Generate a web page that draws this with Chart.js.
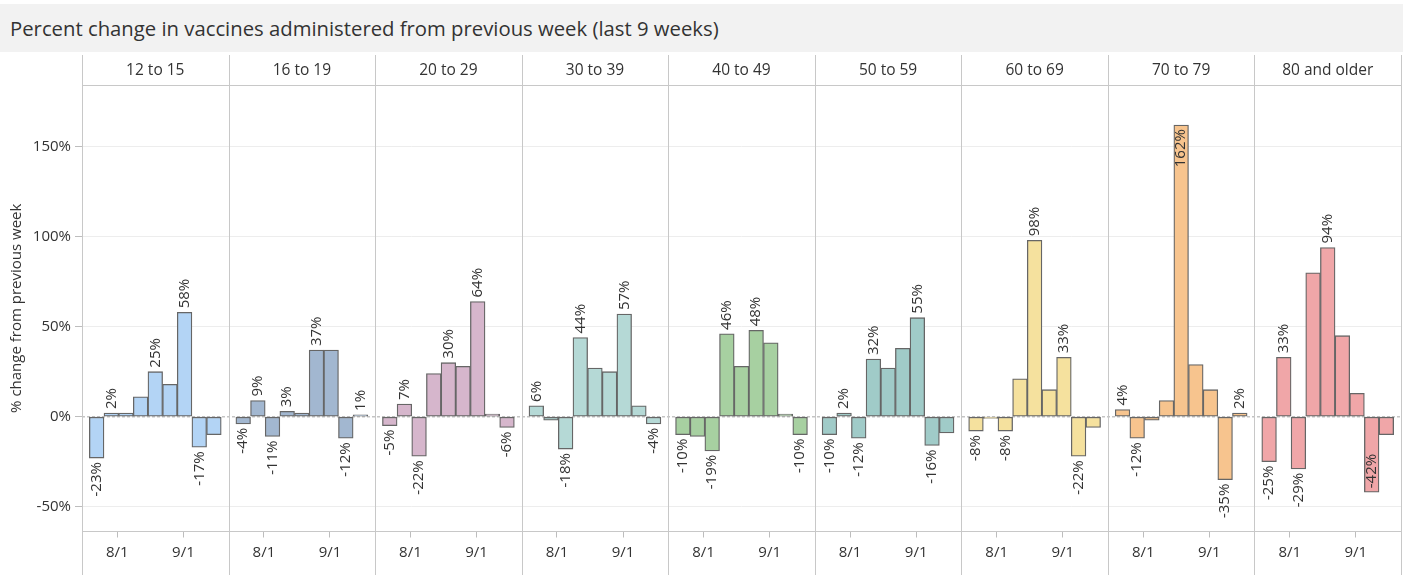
<!DOCTYPE html>
<html><head><meta charset="utf-8">
<script src="https://cdn.jsdelivr.net/npm/chart.js@4.4.1/dist/chart.umd.min.js"></script>
<style>
html,body{margin:0;padding:0;background:#fff;width:1410px;height:575px;overflow:hidden;}
#title{position:absolute;left:0;top:4px;width:1403px;height:48px;background:#f2f2f2;font-family:'Open Sans',sans-serif;font-size:20.3px;color:#333;line-height:48px;padding-left:10px;box-sizing:border-box;white-space:nowrap;}
#wrap{position:absolute;left:0;top:55px;width:1410px;height:520px;}
</style></head><body>
<div id="title">Percent change in vaccines administered from previous week (last 9 weeks)</div>
<div id="wrap"><canvas id="c" width="1410" height="520"></canvas></div>
<script>
// ---- data ----
const groups = ['12 to 15','16 to 19','20 to 29','30 to 39','40 to 49','50 to 59','60 to 69','70 to 79','80 and older'];
const age12to15 = [-23, 2, 2, 11, 25, 18, 58, -17, -10];
const age16to19 = [-4, 9, -11, 3, 2, 37, 37, -12, 1];
const age20to29 = [-5, 7, -22, 24, 30, 28, 64, 1.5, -6];
const age30to39 = [6, -2, -18, 44, 27, 25, 57, 6, -4];
const age40to49 = [-10, -11, -19, 46, 28, 48, 41, 1.5, -10];
const age50to59 = [-10, 2, -12, 32, 27, 38, 55, -16, -9];
const age60to69 = [-8, -1, -8, 21, 98, 15, 33, -22, -6];
const age70to79 = [4, -12, -2, 9, 162, 29, 15, -35, 2];
const age80plus = [-25, 33, -29, 80, 94, 45, 13, -42, -10];
const seriesValues = [age12to15, age16to19, age20to29, age30to39, age40to49, age50to59, age60to69, age70to79, age80plus];
// weeks (0-based) whose value label is shown
const labelledWeeks = [[0,1,4,6,7],[0,1,2,3,5,7,8],[0,1,2,4,6,8],[0,2,3,6,8],[0,2,3,5,8],[0,1,2,3,6,7],[0,2,4,6,7],[0,1,4,7,8],[0,1,2,4,7]];
const insideLabelWeeks = [[],[],[],[],[],[],[],[4],[7]];
const dateTicks = ['8/1', '9/1'];
const dateTickWeeks = [1.41, 5.92]; // date position measured in weeks from first bar
const yTicks = [-50, 0, 50, 100, 150];
const colors = ['#b3d4f5','#a2b7d0','#d6b6cc','#b5d9d6','#a7d0a1','#a0cbc8','#f5e19e','#f7c48e','#f0a6a8'];

const SLOT = 10; // 9 weeks + 1 week of spacing per panel
const FONT = "'Open Sans', sans-serif";
Chart.defaults.font.family = FONT;
Chart.defaults.color = '#333';

const datasets = groups.map((g, p) => ({
  label: g,
  data: seriesValues[p].map((v, i) => ({x: p * SLOT + i, y: v})),
  backgroundColor: colors[p],
  borderColor: '#666666',
  borderWidth: 1.3,
  borderSkipped: false,
  grouped: false,
  barPercentage: 1,
  categoryPercentage: 1,
  labelled: labelledWeeks[p],
  inside: insideLabelWeeks[p]
}));

const panelPlugin = {
  id: 'panels',
  beforeDatasetsDraw(chart) {
    const ctx = chart.ctx, xs = chart.scales.x, ys = chart.scales.y, ca = chart.chartArea;
    ctx.save();
    ctx.strokeStyle = '#c4c4c4';
    ctx.lineWidth = 1.5;
    ctx.setLineDash([3, 2]);
    const y0 = ys.getPixelForValue(0);
    ctx.beginPath(); ctx.moveTo(ca.left, y0); ctx.lineTo(ca.right, y0); ctx.stroke();
    ctx.setLineDash([]);
    ctx.lineWidth = 1;
    ctx.strokeStyle = '#c8c8c8';
    ctx.beginPath();
    for (let p = 0; p <= groups.length; p++) {
      const px = Math.round(xs.getPixelForValue(p * SLOT - 1)) + 0.5;
      ctx.moveTo(px, 0); ctx.lineTo(px, chart.height);
    }
    ctx.stroke();
    ctx.restore();
  },
  afterDatasetsDraw(chart) {
    const ctx = chart.ctx;
    ctx.save();
    ctx.font = '15px ' + FONT;
    ctx.fillStyle = '#333';
    ctx.textBaseline = 'middle';
    const gap = 4;
    chart.data.datasets.forEach((ds, di) => {
      const meta = chart.getDatasetMeta(di);
      meta.data.forEach((bar, i) => {
        if (!ds.labelled.includes(i)) return;
        const v = ds.data[i].y;
        const txt = Math.round(v) + '%';
        const inside = ds.inside.includes(i);
        ctx.save();
        ctx.translate(bar.x, bar.y);
        ctx.rotate(-Math.PI / 2);
        if ((v >= 0) !== inside) { ctx.textAlign = 'left'; ctx.fillText(txt, gap, 0); }
        else { ctx.textAlign = 'right'; ctx.fillText(txt, -gap, 0); }
        ctx.restore();
      });
    });
    ctx.restore();
  }
};

new Chart(document.getElementById('c'), {
  type: 'bar',
  data: { datasets },
  plugins: [panelPlugin],
  options: {
    responsive: false,
    devicePixelRatio: 1,
    animation: false,
    layout: { padding: { left: 0, right: 9, top: 0, bottom: 0 } },
    plugins: { legend: { display: false }, title: { display: false }, tooltip: { enabled: false } },
    scales: {
      x: {
        type: 'linear', position: 'bottom', min: -1, max: groups.length * SLOT - 1, offset: false,
        afterBuildTicks: s => { const t = []; groups.forEach((g, p) => dateTickWeeks.forEach(w => t.push({value: p * SLOT + w}))); s.ticks = t; },
        ticks: { autoSkip: false, maxRotation: 0, padding: 6.5, font: { size: 15 }, color: '#333', callback: (v, i) => dateTicks[i % dateTicks.length] },
        grid: { offset: false, drawOnChartArea: false, drawTicks: true, tickLength: 6, tickColor: '#bdbdbd' },
        border: { display: true, color: '#c8c8c8', width: 1 },
        afterFit: s => { s.height = 43.5; }
      },
      xTop: {
        type: 'linear', position: 'top', min: -1, max: groups.length * SLOT - 1, offset: false,
        afterBuildTicks: s => { s.ticks = groups.map((g, p) => ({value: p * SLOT + 4})); },
        ticks: { autoSkip: false, maxRotation: 0, padding: 5, font: { size: 15.5 }, color: '#333', callback: (v, i) => groups[i] },
        grid: { offset: false, display: false, drawTicks: false },
        border: { display: true, color: '#c8c8c8', width: 1 },
        afterFit: s => { s.height = 30; }
      },
      y: {
        min: -63.8, max: 184.3,
        afterBuildTicks: s => { s.ticks = yTicks.map(v => ({value: v})); },
        ticks: { padding: 4, font: { size: 15 }, color: '#333', callback: v => v + '%' },
        grid: { color: c => (c.tick && c.tick.value === 0) ? 'rgba(0,0,0,0)' : '#ededed', tickColor: '#bdbdbd', tickLength: 7, drawTicks: true },
        border: { display: false },
        title: { display: true, text: '% change from previous week', font: { size: 15 }, color: '#333', padding: { top: 8, bottom: 0 } },
        afterFit: s => { s.width = 82; }
      }
    }
  }
});
</script>
</body></html>
